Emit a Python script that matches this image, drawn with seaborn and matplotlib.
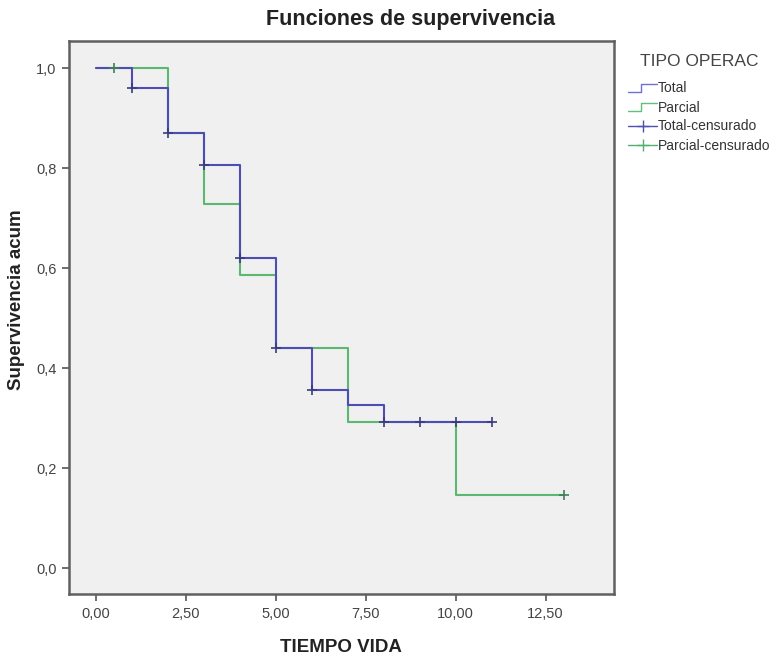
import matplotlib
matplotlib.use("Agg")
import matplotlib.pyplot as plt
from matplotlib.lines import Line2D
from matplotlib.legend_handler import HandlerBase
import seaborn as sns
import pandas as pd

# ---- data ----
total_t = [0, 1, 2, 3, 4, 5, 6, 7, 8, 11]
total_s = [1.0, 0.960, 0.870, 0.806, 0.621, 0.440, 0.357, 0.326, 0.293, 0.293]
parcial_t = [0, 2, 3, 4, 5, 7, 10, 13]
parcial_s = [1.0, 0.871, 0.729, 0.586, 0.440, 0.293, 0.147, 0.147]
total_cens_t = [1, 2, 3, 4, 5, 6, 8, 9, 10, 11]
total_cens_s = [0.960, 0.870, 0.806, 0.621, 0.440, 0.357, 0.293, 0.293, 0.293, 0.293]
parcial_cens_t = [0.5, 13]
parcial_cens_s = [1.0, 0.147]
x_ticks = [0, 2.5, 5, 7.5, 10, 12.5]
x_tick_labels = ["0,00", "2,50", "5,00", "7,50", "10,00", "12,50"]
y_ticks = [0, 0.2, 0.4, 0.6, 0.8, 1.0]
y_tick_labels = ["0,0", "0,2", "0,4", "0,6", "0,8", "1,0"]
groups = ["Total", "Parcial"]

sns.set_theme(style="white")
plt.rcParams['font.family'] = ['Liberation Sans', 'DejaVu Sans']

BLUE = "#4d4db3"
GREEN = "#5cb870"

fig = plt.figure(figsize=(7.82, 6.57), dpi=100)
ax = fig.add_axes([69/782, 1-594/657, (614-69)/782, (594-41)/657])
ax.set_facecolor("#f0f0f0")

df_t = pd.DataFrame({"t": total_t, "s": total_s})
df_p = pd.DataFrame({"t": parcial_t, "s": parcial_s})
sns.lineplot(data=df_p, x="t", y="s", ax=ax, color=GREEN, lw=1.5,
             drawstyle="steps-post", estimator=None, sort=False)
sns.lineplot(data=df_t, x="t", y="s", ax=ax, color=BLUE, lw=1.5,
             drawstyle="steps-post", estimator=None, sort=False)
sns.scatterplot(x=total_cens_t, y=total_cens_s, ax=ax, marker="+", s=45,
                color="#3b3b80", linewidth=1.2, zorder=5)
sns.scatterplot(x=parcial_cens_t, y=parcial_cens_s, ax=ax, marker="+", s=45,
                color="#3f7f5a", linewidth=1.2, zorder=5)

ax.set_xlim((69-95.5)/36, (614-95.5)/36)
ax.set_ylim((568.3-594)/500, (568.3-41)/500)
ax.set_xticks(x_ticks)
ax.set_xticklabels(x_tick_labels)
ax.set_yticks(y_ticks)
ax.set_yticklabels(y_tick_labels)
ax.tick_params(axis="both", direction="out", length=5, width=1.2,
               color="#555555", labelsize=10.5, labelcolor="#444444", pad=4,
               bottom=True, left=True)
for sp in ax.spines.values():
    sp.set_color("#606060")
    sp.set_linewidth(1.8)
ax.set_xlabel("")
ax.set_ylabel("")

fig.text(411/782, 1-20/657, "Funciones de supervivencia", ha="center",
         va="center", fontsize=15.5, fontweight="bold", color="#222222")
fig.text(341/782, 1-647/657, "TIEMPO VIDA", ha="center", va="center",
         fontsize=13.5, fontweight="bold", color="#222222")
fig.text(17/782, 1-300/657, "Supervivencia acum", ha="center", va="center",
         rotation=90, fontsize=13.5, fontweight="bold", color="#222222")


class StepHandler(HandlerBase):
    def create_artists(self, legend, orig_handle, xdescent, ydescent,
                       width, height, fontsize, trans):
        x0, x1 = -xdescent, -xdescent + width
        xm = x0 + width * 0.45
        y0, y1 = -ydescent + height * 0.1, -ydescent + height * 0.85
        ln = Line2D([x0, xm, xm, x1], [y0, y0, y1, y1],
                    color=orig_handle.get_color(), lw=1.0, transform=trans)
        return [ln]


h_total = Line2D([], [], color="#7070d0")
h_parc = Line2D([], [], color="#60c080")
h_tc = Line2D([], [], color="#5050b0", marker="+", markersize=9, lw=1.0)
h_pc = Line2D([], [], color="#50b070", marker="+", markersize=9, lw=1.0)
leg = fig.legend([h_total, h_parc, h_tc, h_pc],
                 ["Total", "Parcial", "Total-censurado", "Parcial-censurado"],
                 handler_map={h_total: StepHandler(), h_parc: StepHandler()},
                 title="TIPO OPERAC", loc="upper left",
                 bbox_to_anchor=(628/782, 1-54/657), frameon=False,
                 fontsize=10, title_fontsize=12.5, handlelength=2.1,
                 handletextpad=0.05, labelspacing=0.36, borderaxespad=0,
                 borderpad=0)
leg._legend_box.sep = 9
leg.get_title().set_color("#444444")
for t in leg.get_texts():
    t.set_color("#333333")

fig.savefig("out.png", dpi=100)
